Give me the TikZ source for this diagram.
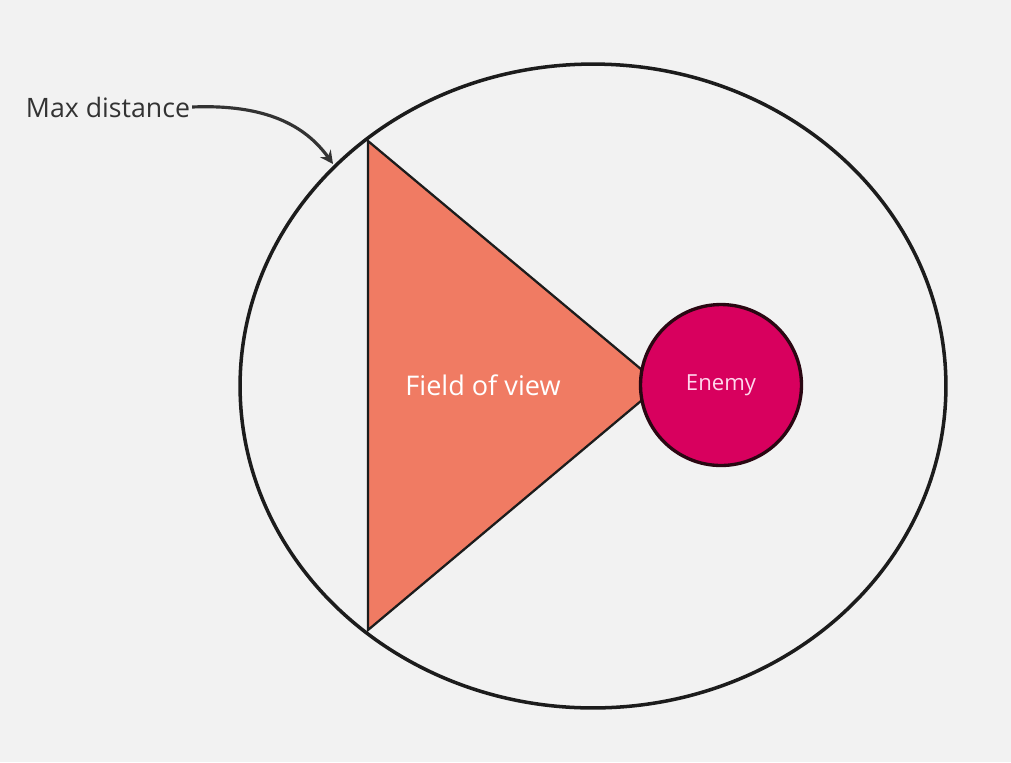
\documentclass[tikz,border=0pt]{standalone}
\usepackage{fontspec}
\setmainfont{Open Sans}
\usetikzlibrary{positioning,arrows.meta,shapes.geometric}
\definecolor{bgcol}{HTML}{F2F2F2}
\definecolor{inkcol}{HTML}{1C1C1C}
\definecolor{labelcol}{HTML}{333333}
\definecolor{viewcol}{HTML}{F07B63}
\definecolor{enemycol}{HTML}{D8005E}
\definecolor{enemyline}{HTML}{2A0712}
\definecolor{enemytext}{HTML}{FFD6EC}
\tikzset{
  pointer/.style={-{Stealth[length=2.6mm, width=2.6mm]}, line width=1.8pt, draw=labelcol},
  rangering/.style={draw=inkcol, ellipse, line width=2pt, minimum width=14.12cm, minimum height=12.88cm, inner sep=0pt},
  viewcone/.style={draw=inkcol, fill=viewcol, line width=1.3pt, line join=miter},
  enemynode/.style={draw=enemyline, circle, fill=enemycol, line width=1.9pt, minimum size=3.22cm, inner sep=0pt, font=\fontsize{12.6}{14}\selectfont, text=enemytext},
  notelabel/.style={font=\fontsize{15.2}{18}\selectfont, text=labelcol, inner sep=1pt},
  conelabel/.style={font=\fontsize{15.4}{18}\selectfont, text=white, inner sep=1pt}
}
\begin{document}
\begin{tikzpicture}[x=0.02cm, y=-0.02cm]
  \fill[bgcol] (0,0) rectangle (1011,762);
  \useasboundingbox (0,0) rectangle (1011,762);
  % max distance ring
  \node[rangering] (ring) at (593,386) {};
  % field of view
  \coordinate (conetop) at (368,141);
  \coordinate (conebot) at (368,630);
  \coordinate (conetip) at (660,385);
  \draw[viewcone] (conetop) -- (conetip) -- (conebot) -- cycle;
  \node[conelabel] (fov) at (483,385) {Field of view};
  % enemy
  \node[enemynode] (enemy) at (721,385) {Enemy};
  % label with pointer
  \node[notelabel] (maxd) at (108,107) {Max distance};
  \coordinate (ringmark) at (333,164);
  \draw[pointer] (maxd.east) .. controls (265,104) and (305,125) .. (ringmark);
\end{tikzpicture}
\end{document}
